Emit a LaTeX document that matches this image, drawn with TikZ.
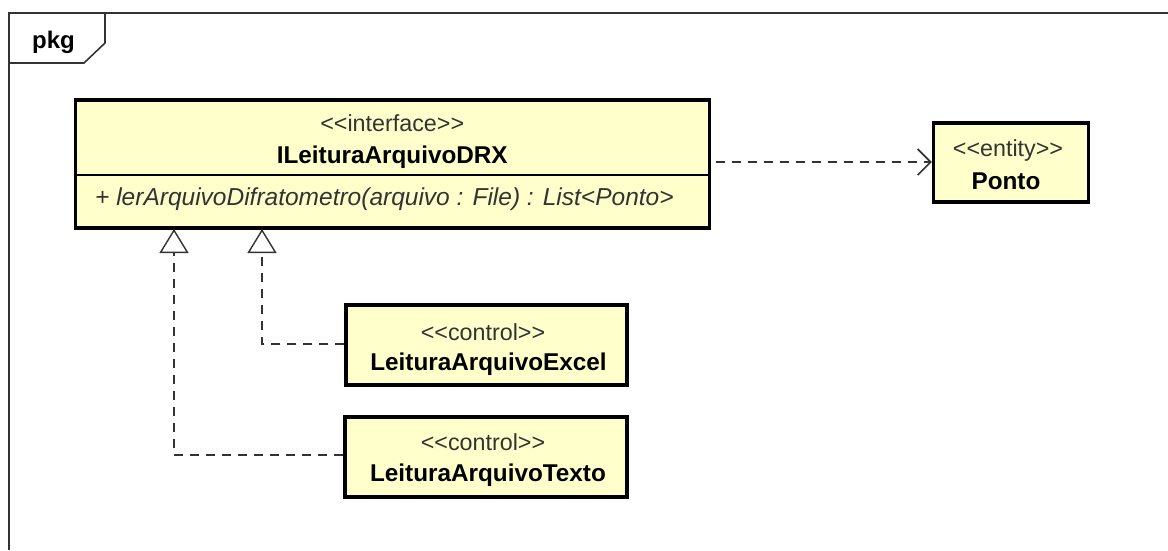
\documentclass[tikz,border=0pt]{standalone}
\usepackage{fontspec}
\setmainfont{Liberation Sans}
\usetikzlibrary{arrows.meta}
\definecolor{boxfill}{HTML}{FFFFCC}
\definecolor{stereo}{HTML}{333333}
\newcommand{\ltlt}{<\kern0pt<}
\newcommand{\gtgt}{>\kern0pt>}
\begin{document}
\begin{tikzpicture}[x=1pt,y=-1pt,
  boxline/.style={draw=black,line width=3.5pt,fill=boxfill},
  stereotxt/.style={font=\fontsize{23.3}{26}\selectfont,text=stereo,inner sep=0pt},
  nametxt/.style={font=\fontsize{24.3}{27}\selectfont\bfseries,inner sep=0pt},
  methtxt/.style={font=\fontsize{24.5}{27}\selectfont\itshape,text=stereo,inner sep=0pt},
  dep/.style={dashed,dash pattern=on 9pt off 7pt,line width=1.4pt,draw=black!80},
  realize/.style={dep,-{Triangle[open,width=29pt,length=24pt,line width=1.4pt]}},
  depend/.style={dep,-{Straight Barb[width=26pt,length=13pt,line width=1.6pt]}},
  frameline/.style={draw=black!80,line width=1.6pt}]
\useasboundingbox (0,0) rectangle (1168,550);
\fill[white] (0,0) rectangle (1168,550);
% package frame
\draw[frameline] (9,550) -- (9,13) -- (1168,13);
\draw[frameline] (9,63) -- (84,63) -- (105,43) -- (105,13);
\node[font=\fontsize{24}{27}\selectfont\bfseries,inner sep=0pt] (pkg) at (53.5,42) {pkg};
% interface box
\node[boxline,inner sep=0pt,minimum width=634pt,minimum height=128pt,anchor=north west] (iface) at (73.5,98) {};
\draw[line width=1.2pt] (iface.west |- 0,175) -- (iface.east |- 0,175);
\node[stereotxt] (ifst) at (iface.north |- 0,123) {\ltlt interface\gtgt};
\node[nametxt] (ifname) at (iface.north |- 0,157) {ILeituraArquivoDRX};
\node[methtxt,anchor=west] (ifmeth) at (95,199) {+ lerArquivoDifratometro(arquivo : File) : List<Ponto>};
% Ponto
\node[boxline,minimum width=155pt,minimum height=79pt,inner sep=0pt] (ponto) at (1011,162.5) {};
\node[stereotxt] (pst) at (1008,150) {\ltlt entity\gtgt};
\node[nametxt] (pname) at (1006,181) {Ponto};
% Excel
\node[boxline,minimum width=281pt,minimum height=80pt,inner sep=0pt] (excel) at (486.5,345) {};
\node[stereotxt] (est) at (483,332) {\ltlt control\gtgt};
\node[nametxt] (ename) at (488.5,364) {LeituraArquivoExcel};
% Texto
\node[boxline,minimum width=282pt,minimum height=80pt,inner sep=0pt] (texto) at (486,457) {};
\node[stereotxt] (tst) at (483,442) {\ltlt control\gtgt};
\node[nametxt] (tname) at (488,475) {LeituraArquivoTexto};
% connectors
\draw[depend] (iface.east |- 0,162) ++(5,0) coordinate (depS) -- (ponto.west |- depS);
\coordinate (r1) at (174,229);
\coordinate (r2) at (262,229);
\draw[realize] (texto.west |- 0,455) -| (r1);
\draw[realize] (excel.west |- 0,344) -| (r2);
\end{tikzpicture}
\end{document}
